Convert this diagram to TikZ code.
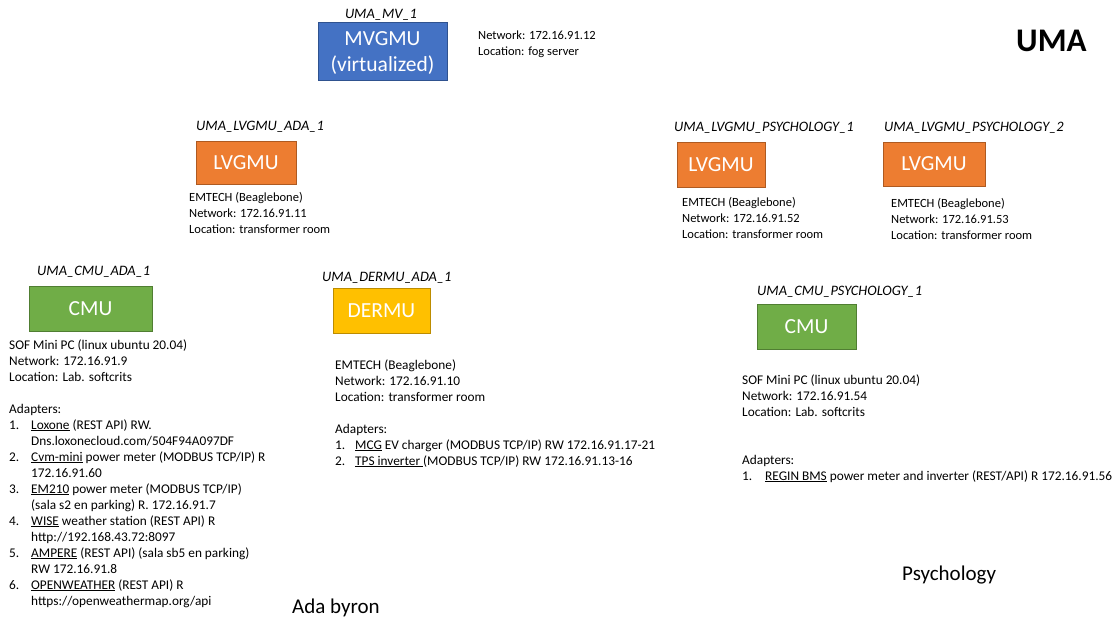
\documentclass[tikz,border=0pt]{standalone}
\usepackage{fontspec}
\setmainfont{Carlito}
\definecolor{mvfill}{HTML}{4472C4}\definecolor{mvdraw}{HTML}{2F528F}
\definecolor{lvfill}{HTML}{ED7D31}\definecolor{lvdraw}{HTML}{AE5A21}
\definecolor{cmfill}{HTML}{70AD47}\definecolor{cmdraw}{HTML}{507E32}
\definecolor{defill}{HTML}{FFC000}\definecolor{dedraw}{HTML}{BC8C00}
\newcommand{\itm}[1]{\makebox[22pt][l]{#1}}
\newcommand{\itn}[1]{\makebox[20pt][l]{#1}}
\newcommand{\itp}[1]{\makebox[23pt][l]{#1}}
\begin{document}
\begin{tikzpicture}[x=1pt,y=-1pt,
  unit/.style={draw, line width=0.6pt, inner sep=0pt, text=white,
    font=\fontsize{21.5}{26}\selectfont, align=center},
  mvbox/.style={unit, fill=mvfill, draw=mvdraw},
  lvbox/.style={unit, fill=lvfill, draw=lvdraw},
  cmbox/.style={unit, fill=cmfill, draw=cmdraw},
  debox/.style={unit, fill=defill, draw=dedraw},
  idlabel/.style={inner sep=0pt, font=\fontsize{14.4}{17}\selectfont\itshape},
  info/.style={inner sep=0pt, anchor=base west, font=\fontsize{12.5}{16}\selectfont},
  infobig/.style={info, font=\fontsize{13.3}{16}\selectfont},
  big/.style={inner sep=0pt, anchor=base west, font=\fontsize{21}{25}\selectfont}]
\useasboundingbox (0,0) rectangle (1119,619);

% MV
\node[mvbox, minimum width=129pt, minimum height=58pt] (mv) at (382.5,51) {};
\node[inner sep=0pt, text=white, font=\fontsize{21.5}{26}\selectfont, align=center] (mvt) at (382.5,53.5) {MVGMU\\(virtualized)};
\node[idlabel, anchor=base] (mvl) at (381,18) {UMA\_MV\_1};
\node[info] (mvi) at (478,39) {\begin{tabular}[t]{@{}l@{}}Network: 172.16.91.12\\Location: fog server\end{tabular}};

\node[inner sep=0pt, anchor=base west, font=\fontsize{33}{37}\selectfont\bfseries] (uma) at (1016,51) {UMA};

% LVGMU ADA
\node[lvbox, minimum width=100pt, minimum height=43pt] (lva) at (246,162.5) {LVGMU};
\node[idlabel, anchor=base west] (lval) at (196,130) {UMA\_LVGMU\_ADA\_1};
\node[info] (lvai) at (189,201) {\begin{tabular}[t]{@{}l@{}}EMTECH (Beaglebone)\\Network: 172.16.91.11\\Location: transformer room\end{tabular}};

% LVGMU PSY 1
\node[lvbox, minimum width=88pt, minimum height=45pt] (lvp1) at (721,164.5) {LVGMU};
\node[idlabel, anchor=base west] (lvp1l) at (674,131) {UMA\_LVGMU\_PSYCHOLOGY\_1};
\node[info] (lvp1i) at (682,206) {\begin{tabular}[t]{@{}l@{}}EMTECH (Beaglebone)\\Network: 172.16.91.52\\Location: transformer room\end{tabular}};

% LVGMU PSY 2
\node[lvbox, minimum width=102pt, minimum height=44pt] (lvp2) at (934,164) {LVGMU};
\node[idlabel, anchor=base west] (lvp2l) at (884,131) {UMA\_LVGMU\_PSYCHOLOGY\_2};
\node[info] (lvp2i) at (891,207) {\begin{tabular}[t]{@{}l@{}}EMTECH (Beaglebone)\\Network: 172.16.91.53\\Location: transformer room\end{tabular}};

% CMU ADA
\node[cmbox, minimum width=123pt, minimum height=45pt] (cma) at (90.5,308.5) {CMU};
\node[idlabel, anchor=base west] (cmal) at (37,275) {UMA\_CMU\_ADA\_1};
\node[infobig] (cmai) at (9,349) {\begin{tabular}[t]{@{}l@{}}SOF Mini PC (linux ubuntu 20.04)\\Network: 172.16.91.9\\Location: Lab. softcrits\\ \\
Adapters:\\
\itm{1.}\underline{Loxone} (REST API) RW.\\
\itm{}Dns.loxonecloud.com/504F94A097DF\\
\itm{2.}\underline{Cvm-mini} power meter (MODBUS TCP/IP) R\\
\itm{}172.16.91.60\\
\itm{3.}\underline{EM210} power meter (MODBUS TCP/IP)\\
\itm{}(sala s2 en parking) R. 172.16.91.7\\
\itm{4.}\underline{WISE} weather station (REST API) R\\
\itm{}http://192.168.43.72:8097\\
\itm{5.}\underline{AMPERE} (REST API) (sala sb5 en parking)\\
\itm{}RW 172.16.91.8\\
\itm{6.}\underline{OPENWEATHER} (REST API) R\\
\itm{}https://openweathermap.org/api\end{tabular}};

% DERMU ADA
\node[debox, minimum width=97pt, minimum height=45pt] (dea) at (381.5,310.5) {DERMU};
\node[idlabel, anchor=base west] (deal) at (322,281) {UMA\_DERMU\_ADA\_1};
\node[infobig] (deai) at (335,369) {\begin{tabular}[t]{@{}l@{}}EMTECH (Beaglebone)\\Network: 172.16.91.10\\Location: transformer room\\ \\
Adapters:\\
\itn{1.}\underline{MCG} EV charger (MODBUS TCP/IP) RW 172.16.91.17-21\\
\itn{2.}\underline{TPS inverter\ }(MODBUS TCP/IP) RW 172.16.91.13-16\end{tabular}};

% CMU PSY
\node[cmbox, minimum width=99pt, minimum height=45pt] (cmp) at (806.5,326.5) {CMU};
\node[idlabel, anchor=base west] (cmpl) at (757,295) {UMA\_CMU\_PSYCHOLOGY\_1};
\node[infobig] (cmpi) at (742,384) {\begin{tabular}[t]{@{}l@{}}SOF Mini PC (linux ubuntu 20.04)\\Network: 172.16.91.54\\Location: Lab. softcrits\\ \\ \\
Adapters:\\
\itp{1.}\underline{REGIN BMS} power meter and inverter (REST/API) R 172.16.91.56\end{tabular}};

\node[big] (psy) at (902,580) {Psychology};
\node[big] (ada) at (292,613) {Ada byron};
\end{tikzpicture}
\end{document}
